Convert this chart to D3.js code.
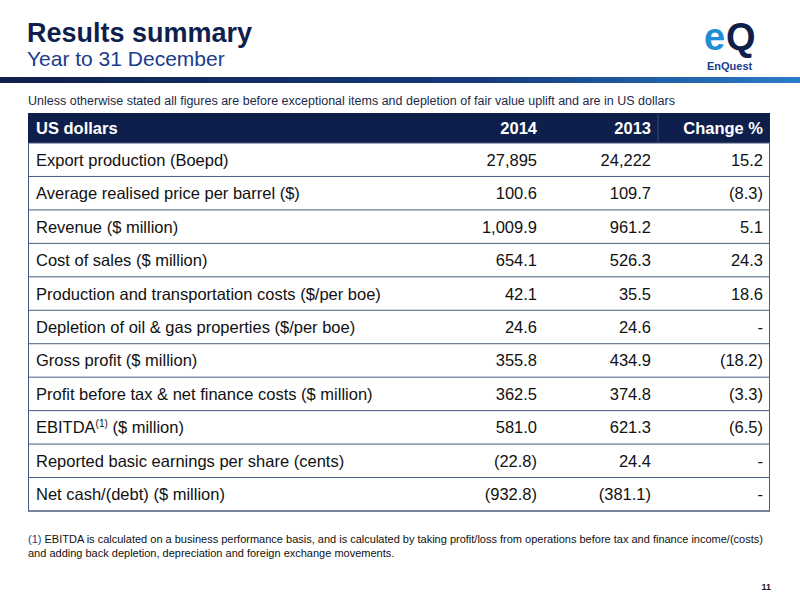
<!DOCTYPE html>
<meta charset="utf-8">
<script src="https://d3js.org/d3.v7.min.js"></script>
<style>body{margin:0}</style>
<div id="slide"></div>
<script>
    // table data
    const columns = ["US dollars", "2014", "2013", "Change %"];
    const labels = [
        "Export production (Boepd)",
        "Average realised price per barrel ($)",
        "Revenue ($ million)",
        "Cost of sales ($ million)",
        "Production and transportation costs ($/per boe)",
        "Depletion of oil & gas properties ($/per boe)",
        "Gross profit ($ million)",
        "Profit before tax & net finance costs ($ million)",
        "EBITDA",
        "Reported basic earnings per share (cents)",
        "Net cash/(debt) ($ million)"
    ];
    const values2014 = ["27,895", "100.6", "1,009.9", "654.1", "42.1", "24.6", "355.8", "362.5", "581.0", "(22.8)", "(932.8)"];
    const values2013 = ["24,222", "109.7", "961.2", "526.3", "35.5", "24.6", "434.9", "374.8", "621.3", "24.4", "(381.1)"];
    const changes = ["15.2", "(8.3)", "5.1", "24.3", "18.6", "-", "(18.2)", "(3.3)", "(6.5)", "-", "-"];

    const W = 800, H = 600;
    const font = "Liberation Sans, Arial, sans-serif";
    const navy = "#0f1f4b";

    const svg = d3.select("#slide").append("svg")
        .attr("width", W).attr("height", H)
        .style("font-family", font);

    svg.append("rect").attr("width", W).attr("height", H).attr("fill", "#fff");

    // title
    svg.append("text").attr("x", 27).attr("y", 42)
        .attr("font-size", 27).attr("font-weight", "bold").attr("fill", navy)
        .text("Results summary");
    svg.append("text").attr("x", 27).attr("y", 66)
        .attr("font-size", 21).attr("fill", "#1a3c8c")
        .text("Year to 31 December");

    // top rule with gradient
    const grad = svg.append("defs").append("linearGradient").attr("id", "bar");
    grad.append("stop").attr("offset", "0%").attr("stop-color", "#0f1f4b");
    grad.append("stop").attr("offset", "60%").attr("stop-color", "#163a7a");
    grad.append("stop").attr("offset", "100%").attr("stop-color", "#2a7cc8");
    svg.append("rect").attr("x", 0).attr("y", 77).attr("width", W).attr("height", 6).attr("fill", "url(#bar)");

    // logo
    svg.append("text").attr("x", 704).attr("y", 50)
        .attr("font-size", 38).attr("font-weight", "bold").attr("fill", "#1e8fd6")
        .text("e");
    svg.append("text").attr("x", 726).attr("y", 50)
        .attr("font-size", 38).attr("font-weight", "bold").attr("fill", navy)
        .text("Q");
    svg.append("text").attr("x", 707).attr("y", 70)
        .attr("font-size", 11).attr("font-weight", "bold").attr("fill", "#1a3c8c")
        .text("EnQuest");

    svg.append("text").attr("x", 28).attr("y", 105)
        .attr("font-size", 12.5).attr("fill", "#1a2a4a")
        .text("Unless otherwise stated all figures are before exceptional items and depletion of fair value uplift and are in US dollars");

    // table geometry
    const left = 28, right = 770;
    const x = d3.scaleOrdinal().domain(columns).range([36, 537, 651, 763]);
    const y = d3.scaleBand().domain(labels).range([143, 511]);

    svg.append("rect").attr("x", left).attr("y", 113).attr("width", right - left).attr("height", 30).attr("fill", navy);
    svg.append("line").attr("x1", 658).attr("x2", 658).attr("y1", 114).attr("y2", 142)
        .attr("stroke", "#3a4a78").attr("stroke-width", 1);

    svg.selectAll(".hdr").data(columns).join("text")
        .attr("x", d => x(d)).attr("y", 134)
        .attr("text-anchor", (d, i) => i ? "end" : "start")
        .attr("font-size", 16.5).attr("font-weight", "bold").attr("fill", "#fff")
        .text(d => d);

    svg.append("rect").attr("x", left + 0.5).attr("y", 143).attr("width", right - left - 1).attr("height", 368)
        .attr("fill", "none").attr("stroke", "#4a5a82").attr("stroke-width", 1);

    const rows = svg.selectAll(".row").data(labels).join("g")
        .attr("transform", d => `translate(0,${y(d)})`);

    rows.append("line").attr("x1", left).attr("x2", right)
        .attr("y1", y.bandwidth()).attr("y2", y.bandwidth())
        .attr("stroke", "#4a5a82").attr("stroke-width", 1);

    const ty = y.bandwidth() / 2 + 6;
    rows.append("text").attr("x", x(columns[0])).attr("y", ty)
        .attr("font-size", 16.5).attr("fill", "#111")
        .each(function(d) {
            const t = d3.select(this);
            if (d === "EBITDA") {
                t.append("tspan").text("EBITDA");
                t.append("tspan").attr("font-size", 10).attr("dy", -6).text("(1)");
                t.append("tspan").attr("dy", 6).text(" ($ million)");
            } else t.text(d);
        });

    const cols = [values2014, values2013, changes];
    cols.forEach((arr, ci) => {
        rows.append("text").attr("x", x(columns[ci + 1])).attr("y", ty)
            .attr("text-anchor", "end").attr("font-size", 16.5).attr("fill", "#111")
            .text((d, i) => arr[i]);
    });

    // footnote
    const fn = svg.append("text").attr("x", 28).attr("y", 543).attr("font-size", 11).attr("fill", "#111");
    fn.append("tspan").attr("fill", "#1a3c8c").text("(1) ");
    fn.append("tspan").text("EBITDA is calculated on a business performance basis, and is calculated by taking profit/loss from operations before tax and finance income/(costs)");
    svg.append("text").attr("x", 28).attr("y", 557).attr("font-size", 11).attr("fill", "#111")
        .text("and adding back depletion, depreciation and foreign exchange movements.");

    svg.append("text").attr("x", 771).attr("y", 590).attr("text-anchor", "end")
        .attr("font-size", 9).attr("font-weight", "bold").attr("fill", "#1a1a2a").text("11");
</script>
